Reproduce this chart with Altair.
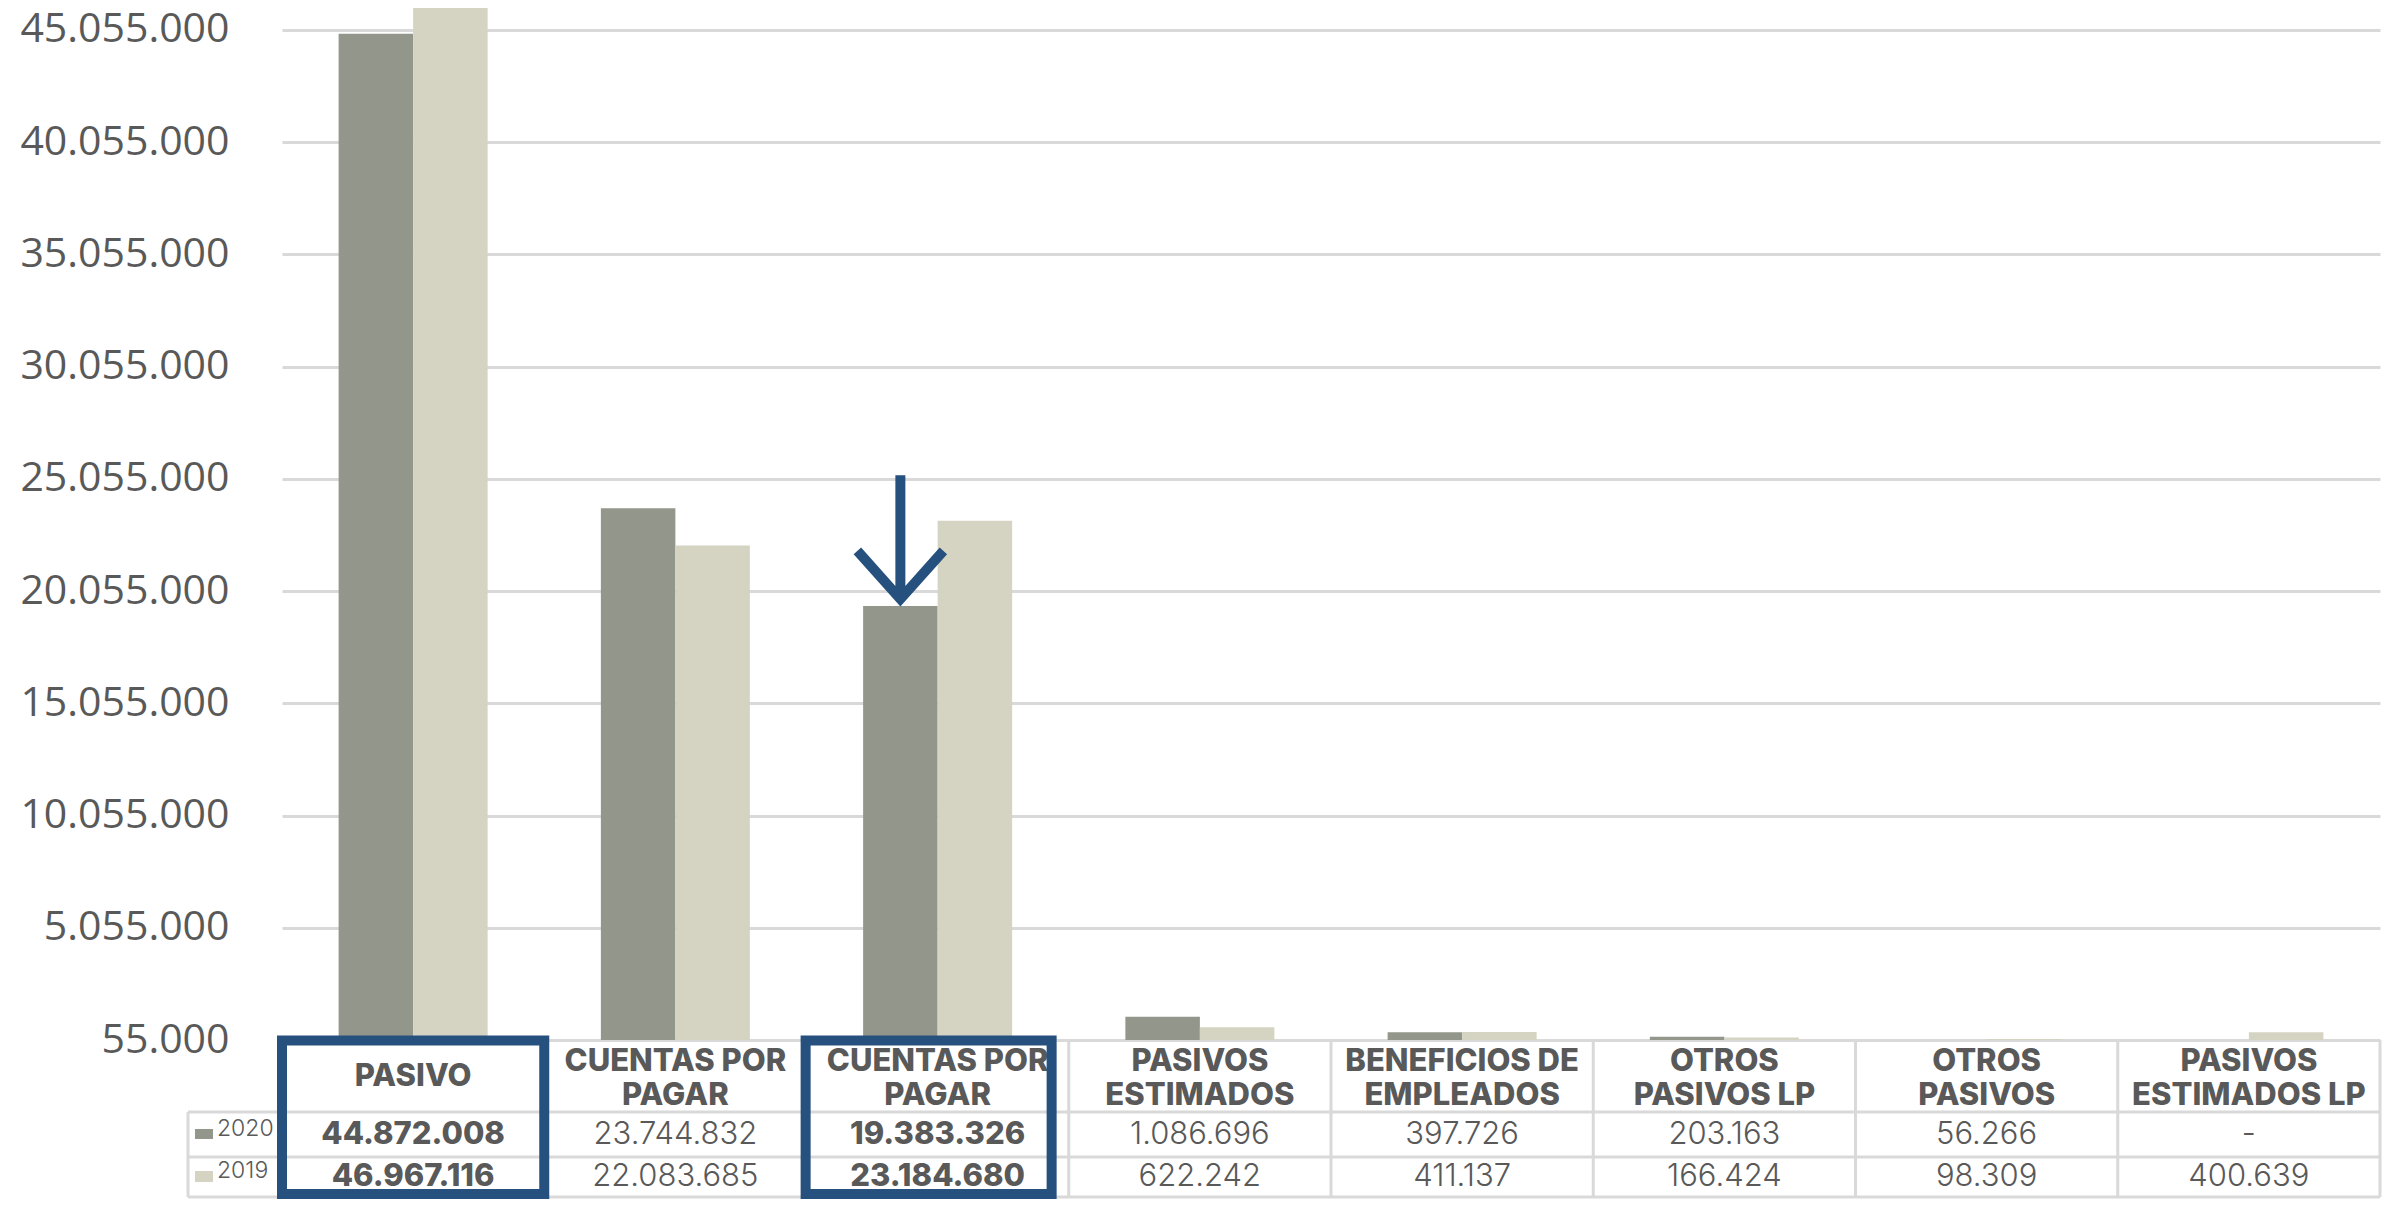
import altair as alt
import pandas as pd

# ---------------- data ----------------
keys = ["c1", "c2", "c3", "c4", "c5", "c6", "c7", "c8"]
headers = [
    "PASIVO",
    "CUENTAS POR\nPAGAR",
    "CUENTAS POR\nPAGAR",
    "PASIVOS\nESTIMADOS",
    "BENEFICIOS DE\nEMPLEADOS",
    "OTROS\nPASIVOS LP",
    "OTROS\nPASIVOS",
    "PASIVOS\nESTIMADOS LP",
]
years = ["2020", "2019"]
vals_2020 = [44872008, 23744832, 19383326, 1086696, 397726, 203163, 56266, None]
vals_2019 = [46967116, 22083685, 23184680, 622242, 411137, 166424, 98309, 400639]
highlight = ["c1", "c3"]
arrow_key = "c3"
arrow_year = "2020"
y_ticks = [55000, 5055000, 10055000, 15055000, 20055000, 25055000,
           30055000, 35055000, 40055000, 45055000]
y_min = 55000
y_max = 46024000

C2020 = "#93968A"
C2019 = "#D5D4C3"
BLUE = "#26507D"
GRID = "#D9D9D9"
TXT = "#595959"


def fmt(v):
    if v is None:
        return "-"
    return "{:,}".format(int(v)).replace(",", ".")


rows = []
for yr, vals in zip(years, [vals_2020, vals_2019]):
    for k, v in zip(keys, vals):
        rows.append({"key": k, "year": yr, "value": v, "txt": fmt(v),
                     "bold": k in highlight})
df = pd.DataFrame(rows)
df_head = pd.DataFrame({"key": keys, "label": headers})
df_leg = pd.DataFrame({"year": years})

# ---------------- layout (pixels) ----------------
W, H = 2098, 1032
PAD = {"left": 274, "right": 2, "top": 0, "bottom": 159}
ROW1, ROW2, BOTTOM = 1104, 1149, 1189
LEFT_COL = -94

xscale = alt.Scale(domain=keys, paddingInner=0, paddingOuter=0)
yscale = alt.Scale(domain=[y_min, y_max], nice=False, zero=False)
cscale = alt.Scale(domain=years, range=[C2020, C2019])


def X(**kw):
    return alt.X("key:N", scale=xscale, axis=None, **kw)


xoff = alt.XOffset("year:N", scale=alt.Scale(domain=years, paddingInner=0, paddingOuter=0.76))

yaxis = alt.Axis(
    values=y_ticks, grid=True, gridColor=GRID, gridWidth=3, domain=False,
    ticks=False, title=None, labelFont="Open Sans", labelFontSize=41,
    labelColor=TXT, labelPadding=53, labelFlush=False, labelOverlap=False,
    labelLimit=400,
    labelExpr="replace(format(datum.value, ',d'), regexp(',', 'g'), '.')",
)

bars = alt.Chart(df).transform_filter("isValid(datum.value)").mark_bar(clip=True).encode(
    x=X(), xOffset=xoff,
    y=alt.Y("value:Q", scale=yscale, axis=yaxis),
    y2=alt.datum(y_min),
    color=alt.Color("year:N", scale=cscale, legend=None),
)

arrow_path = "M0,-2.88L0,0M-1,-1.12L0,0L1,-1.12"
arrow = alt.Chart(df).transform_filter(
    f"datum.key == '{arrow_key}' && datum.year == '{arrow_year}'"
).mark_point(shape=arrow_path, size=86 * 86, filled=False, stroke=BLUE,
             strokeWidth=10, strokeCap="butt", strokeJoin="miter", opacity=1,
             yOffset=-7).encode(
    x=X(), xOffset=xoff, y=alt.Y("value:Q", scale=yscale, axis=yaxis),
)

one = pd.DataFrame({"k": [0]})
hlines = [
    alt.Chart(one).mark_rule(color=GRID, strokeWidth=3).encode(
        x=alt.value(LEFT_COL), x2=alt.value(W), y=alt.value(yy))
    for yy in (ROW1, ROW2, BOTTOM)
]
vlines = alt.Chart(df_head).mark_rule(color=GRID, strokeWidth=3).encode(
    x=X(bandPosition=0), y=alt.value(H), y2=alt.value(BOTTOM))
vline_end = alt.Chart(df_head).transform_filter(f"datum.key == '{keys[-1]}'").mark_rule(
    color=GRID, strokeWidth=3).encode(x=X(bandPosition=1), y=alt.value(H), y2=alt.value(BOTTOM))
vline_left = alt.Chart(one).mark_rule(color=GRID, strokeWidth=3).encode(
    x=alt.value(LEFT_COL), y=alt.value(ROW1), y2=alt.value(BOTTOM))

head_kw = dict(font="Inter", fontSize=31, fontWeight=800, color=TXT, lineBreak="\n",
               lineHeight=34, baseline="middle", align="center")
head_one = alt.Chart(df_head).transform_filter("indexof(datum.label, '\\n') < 0").mark_text(
    **head_kw).encode(x=X(), y=alt.value(1069), text="label:N")
head_two = alt.Chart(df_head).transform_filter("indexof(datum.label, '\\n') >= 0").mark_text(
    **head_kw).encode(x=X(), y=alt.value(1054), text="label:N")

val_layers = []
for yr, ypos in zip(years, [(ROW1 + ROW2) / 2, (ROW2 + BOTTOM) / 2]):
    for b in (False, True):
        val_layers.append(
            alt.Chart(df).transform_filter(
                f"datum.year == '{yr}' && datum.bold == {'true' if b else 'false'}"
            ).mark_text(font="Inter", fontSize=31, fontWeight=800 if b else 300,
                        color=TXT, baseline="middle", align="center").encode(
                x=X(), y=alt.value(ypos), text="txt:N")
        )

leg_layers = []
for yr, (sq0, sq1, ty) in zip(years, [(1121, 1131, 1121), (1163, 1174, 1163)]):
    leg_layers.append(
        alt.Chart(df_leg).transform_filter(f"datum.year == '{yr}'").mark_rect().encode(
            x=alt.value(-87), x2=alt.value(-69), y=alt.value(sq0), y2=alt.value(sq1),
            color=alt.Color("year:N", scale=cscale, legend=None))
    )
    leg_layers.append(
        alt.Chart(df_leg).transform_filter(f"datum.year == '{yr}'").mark_text(
            font="Inter", fontSize=23, fontWeight=300, color=TXT, align="left",
            baseline="middle").encode(x=alt.value(-65), y=alt.value(ty), text="year:N")
    )

box1 = alt.Chart(df_head).transform_filter(f"datum.key == '{highlight[0]}'").mark_rect(
    fillOpacity=0, stroke=BLUE, strokeWidth=10).encode(
    x=X(), y=alt.value(1032.5), y2=alt.value(1186))
box2 = alt.Chart(df_head).transform_filter(f"datum.key == '{highlight[1]}'").mark_rect(
    fillOpacity=0, stroke=BLUE, strokeWidth=10, width=246, xOffset=-9).encode(
    x=X(), y=alt.value(1032.5), y2=alt.value(1186))

chart = alt.layer(
    bars, arrow, *hlines, vlines, vline_end, vline_left, head_one, head_two,
    *val_layers, *leg_layers, box1, box2,
).properties(
    width=W, height=H, padding=PAD,
    autosize=alt.AutoSizeParams(type="none"), background="white",
).configure_view(stroke=None)

chart.save("out.html", embed_options={"renderer": "svg", "actions": False})
